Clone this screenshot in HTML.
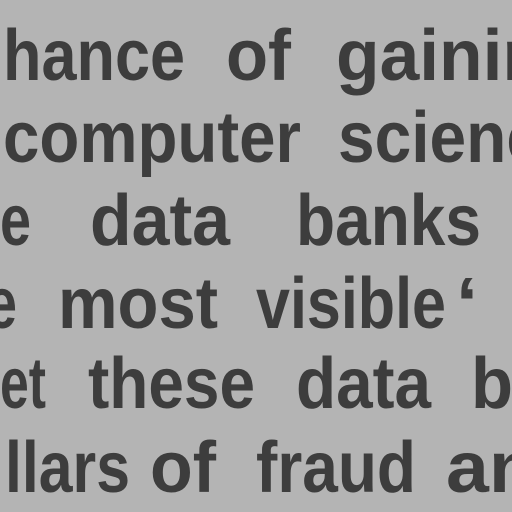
<!DOCTYPE html>
<html><head><meta charset="utf-8"><style>
html,body{margin:0;padding:0;background:#b4b4b4;}
svg{display:block;}
text{font-family:"Liberation Sans",sans-serif;font-weight:bold;font-size:72px;fill:#3d3d3d;}
</style></head><body>
<svg width="512" height="512" viewBox="0 0 512 512">
<rect width="512" height="512" fill="#b4b4b4"/>
<g>
<text x="3" y="80" textLength="182" lengthAdjust="spacingAndGlyphs">hance</text>
<text x="226" y="80" textLength="65" lengthAdjust="spacingAndGlyphs">of</text>
<text x="336" y="80" textLength="210" lengthAdjust="spacingAndGlyphs">gainin</text>
</g>
<g>
<text x="3" y="162" textLength="298" lengthAdjust="spacingAndGlyphs">computer</text>
<text x="338" y="162" textLength="205" lengthAdjust="spacingAndGlyphs">scienc</text>
</g>
<g>
<text x="0" y="245" textLength="31" lengthAdjust="spacingAndGlyphs">e</text>
<text x="90" y="245" textLength="140" lengthAdjust="spacingAndGlyphs">data</text>
<text x="296" y="245" textLength="185" lengthAdjust="spacingAndGlyphs">banks</text>
</g>
<g>
<text x="-14" y="328" textLength="31" lengthAdjust="spacingAndGlyphs">e</text>
<text x="58" y="328" textLength="160" lengthAdjust="spacingAndGlyphs">most</text>
<text x="256" y="328" textLength="190" lengthAdjust="spacingAndGlyphs">visible</text>
<text x="456" y="328" textLength="22" lengthAdjust="spacingAndGlyphs">‘</text>
</g>
<g>
<text x="0" y="408" textLength="46" lengthAdjust="spacingAndGlyphs">et</text>
<text x="88" y="408" textLength="167" lengthAdjust="spacingAndGlyphs">these</text>
<text x="296" y="408" textLength="135" lengthAdjust="spacingAndGlyphs">data</text>
<text x="471" y="408" textLength="42" lengthAdjust="spacingAndGlyphs">b</text>
</g>
<g>
<text x="5" y="492" textLength="125" lengthAdjust="spacingAndGlyphs">llars</text>
<text x="150" y="492" textLength="66" lengthAdjust="spacingAndGlyphs">of</text>
<text x="256" y="492" textLength="160" lengthAdjust="spacingAndGlyphs">fraud</text>
<text x="446" y="492" textLength="90" lengthAdjust="spacingAndGlyphs">an</text>
</g>
</svg>
</body></html>
